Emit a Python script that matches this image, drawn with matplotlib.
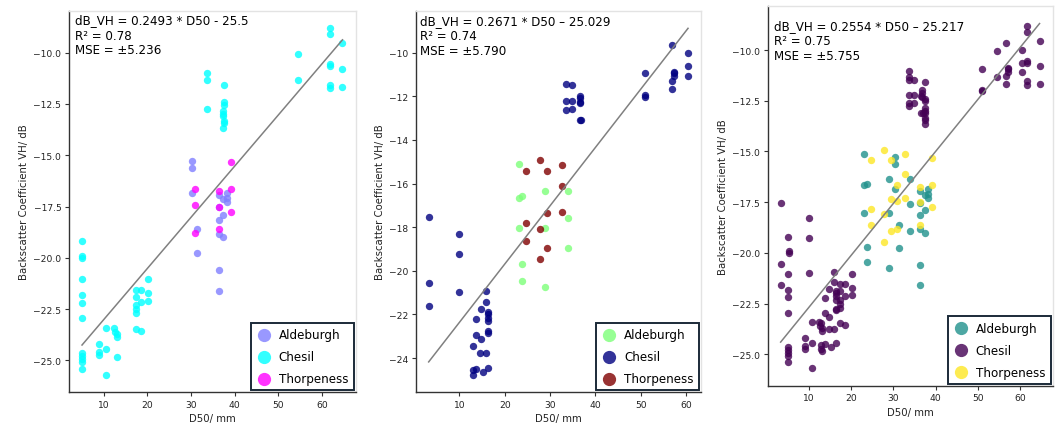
import numpy as np
import matplotlib
matplotlib.use("Agg")
import matplotlib.pyplot as plt
from matplotlib.ticker import MultipleLocator

# ---- Survey A (left panel) ----
a_ald_d50 = [30.3, 30.3, 30.3, 31.4, 31.4, 36.3, 36.3, 36.3, 36.3, 36.3, 36.3,
             37.4, 37.4, 37.4, 38.2, 38.2, 38.2]
a_ald_vh = [-15.26, -15.61, -16.83, -18.62, -19.76, -16.96, -17.53, -18.14, -18.83, -20.58, -21.60,
            -17.13, -17.89, -19.00, -16.83, -17.08, -17.29]

a_che_d50 = [5.0, 5.1, 5.1, 5.0, 5.0, 5.0, 5.0, 5.0, 5.0, 5.0, 5.0, 5.0,
             8.9, 8.9, 8.9, 10.6, 10.6, 10.6, 12.3, 12.5, 13.1, 13.1, 13.05,
             17.3, 17.3, 17.3, 17.3, 17.3, 17.3, 18.6, 18.6, 18.6, 20.1, 20.1, 20.1,
             33.6, 33.6, 33.6, 37.5, 37.5, 37.5, 37.4, 37.4, 37.4, 37.5, 37.5, 37.4,
             54.5, 54.5, 61.8, 61.8, 61.8, 61.8, 61.8, 61.8, 64.7, 64.7, 64.7]
a_che_vh = [-19.20, -19.90, -20.00, -21.03, -21.83, -22.19, -22.95, -24.65, -24.80, -24.95, -25.10, -25.40,
            -24.20, -24.60, -24.75, -23.40, -24.45, -25.70, -23.40, -23.60, -23.72, -23.85, -24.85,
            -21.55, -21.90, -22.30, -22.50, -22.70, -23.45, -21.55, -22.15, -23.55, -21.02, -21.71, -22.10,
            -11.01, -11.34, -12.75, -11.56, -12.39, -12.53, -12.85, -13.00, -13.10, -13.35, -13.45, -13.65,
            -10.05, -11.35, -8.81, -9.10, -10.54, -10.65, -11.55, -11.71, -9.55, -10.77, -11.68]

a_tho_d50 = [30.9, 30.9, 30.9, 36.3, 36.3, 36.3, 39.2, 39.2, 39.2]
a_tho_vh = [-16.64, -17.42, -18.80, -16.75, -17.50, -18.62, -15.34, -16.64, -17.76]

# ---- Survey B (middle panel) ----
b_ald_d50 = [23.1, 23.1, 23.1, 23.7, 23.7, 23.7, 28.85, 28.85, 28.85, 33.97, 33.97, 33.97]
b_ald_vh = [-15.11, -16.67, -18.03, -16.59, -19.71, -20.46, -16.36, -18.03, -20.73, -16.36, -17.59, -18.94]

b_che_d50 = [3.2, 3.2, 3.2, 9.9, 9.9, 9.9, 15.9, 15.9, 15.9, 14.8, 14.8,
             16.3, 16.3, 16.3, 16.3, 16.3, 16.3, 16.3, 13.75, 13.75, 13.75, 12.9, 12.9, 12.9,
             14.6, 15.1,
             33.6, 33.6, 33.6, 34.8, 34.8, 34.8, 36.7, 36.7, 36.7, 36.5, 36.9, 36.5,
             51.05, 51.05, 51.05, 56.8, 56.8, 56.8, 57.3, 57.3, 57.3, 60.44, 60.44, 60.44]
b_che_vh = [-17.54, -20.55, -21.60, -18.30, -19.25, -20.99, -20.92, -21.45, -23.75, -21.76, -23.14,
            -21.90, -22.00, -22.15, -22.30, -22.76, -22.84, -24.46, -22.22, -22.96, -24.50, -23.46, -24.53, -24.76,
            -23.75, -24.64,
            -11.46, -12.22, -12.61, -11.50, -12.22, -12.60, -11.99, -12.10, -12.33, -12.25, -13.08, -13.08,
            -10.92, -11.95, -12.02, -9.63, -11.30, -11.65, -10.87, -10.95, -11.07, -10.00, -10.62, -11.07]

b_tho_d50 = [27.67, 27.67, 27.67, 24.74, 24.74, 24.74, 29.35, 29.35, 29.35, 32.73, 32.73, 32.73]
b_tho_vh = [-14.94, -18.07, -19.46, -15.41, -17.82, -18.63, -15.41, -17.36, -18.94, -15.14, -16.13, -17.31]

sites = ["Aldeburgh", "Chesil", "Thorpeness"]

# Fitted regressions: slope, intercept, R², MSE, sign character used in the label
fit_slope = [0.2493, 0.2671, 0.2554]
fit_intercept = [-25.5, -25.029, -25.217]
fit_r2 = [0.78, 0.74, 0.75]
fit_mse = [5.236, 5.790, 5.755]
fit_labels = ["dB_VH = 0.2493 * D50 - 25.5",
              "dB_VH = 0.2671 * D50 \u2013 25.029",
              "dB_VH = 0.2554 * D50 \u2013 25.217"]

# site colours per panel: cool, jet and viridis colour maps at 0.5 / 0 / 1
panel_colors = [
    [plt.cm.cool(0.5), plt.cm.cool(0.0), plt.cm.cool(1.0)],
    [plt.cm.jet(0.5), plt.cm.jet(0.0), plt.cm.jet(1.0)],
    [plt.cm.viridis(0.5), plt.cm.viridis(0.0), plt.cm.viridis(1.0)],
]

panel_data = [
    [(a_ald_d50, a_ald_vh), (a_che_d50, a_che_vh), (a_tho_d50, a_tho_vh)],
    [(b_ald_d50, b_ald_vh), (b_che_d50, b_che_vh), (b_tho_d50, b_tho_vh)],
    [(a_ald_d50 + b_ald_d50, a_ald_vh + b_ald_vh),
     (a_che_d50 + b_che_d50, a_che_vh + b_che_vh),
     (a_tho_d50 + b_tho_d50, a_tho_vh + b_tho_vh)],
]

W, H = 1059, 427
fig = plt.figure(figsize=(W / 100, H / 100), dpi=100)

# axes boxes in pixels: left, right, top, bottom
boxes = [(69, 355.5, 12, 393), (415.7, 701, 12, 393), (767.7, 1052.5, 7.3, 386.7)]
ystep = [2.5, 2, 2.5]
text_top = [2.5, 3.0, 12.5]
text_left = [6, 4.3, 6.3]

tick_fs = 6.6
label_fs = 7.3
text_fs = 8.6
dark = "#333333"

for i in range(3):
    l, r, t, b = boxes[i]
    ax = fig.add_axes([l / W, (H - b) / H, (r - l) / W, (b - t) / H])
    for j, site in enumerate(sites):
        xs, ys = panel_data[i][j]
        ax.scatter(xs, ys, s=28, color=panel_colors[i][j], alpha=0.8,
                   linewidths=0, label=site, zorder=2)
    allx = np.concatenate([np.asarray(d[0], float) for d in panel_data[i]])
    xl = np.array([allx.min(), allx.max()])
    ax.plot(xl, fit_slope[i] * xl + fit_intercept[i], color="#808080", lw=1.1, zorder=3)

    ax.xaxis.set_major_locator(MultipleLocator(10))
    ax.yaxis.set_major_locator(MultipleLocator(ystep[i]))
    ax.tick_params(labelsize=tick_fs, length=3, width=0.8, color=dark,
                   labelcolor="#222222", pad=2.5)
    for side in ("left", "bottom"):
        ax.spines[side].set_color(dark)
        ax.spines[side].set_linewidth(1.0)
    for side in ("top", "right"):
        ax.spines[side].set_color("#e3e3e3")
        ax.spines[side].set_linewidth(1.0)

    ax.set_xlabel("D50/ mm", fontsize=label_fs, color="#222222", labelpad=3)
    ax.set_ylabel("Backscatter Coefficient VH/ dB", fontsize=label_fs, color="#222222", labelpad=3)

    txt = "%s\nR\u00b2 = %.2f\nMSE = \u00b1%.3f" % (fit_labels[i], fit_r2[i], fit_mse[i])
    ax.text(text_left[i] / (r - l), 1 - text_top[i] / (b - t), txt, transform=ax.transAxes,
            ha="left", va="top", fontsize=text_fs, color="black", linespacing=1.2)

    leg = ax.legend(loc="lower right", fontsize=text_fs, markerscale=1.8,
                    fancybox=False, framealpha=1, edgecolor="#1b2a38",
                    borderaxespad=0.15, handlelength=1.3, handletextpad=0.6,
                    labelspacing=0.75, borderpad=0.45)
    leg.get_frame().set_linewidth(1.4)

fig.savefig("out.png", dpi=100)
